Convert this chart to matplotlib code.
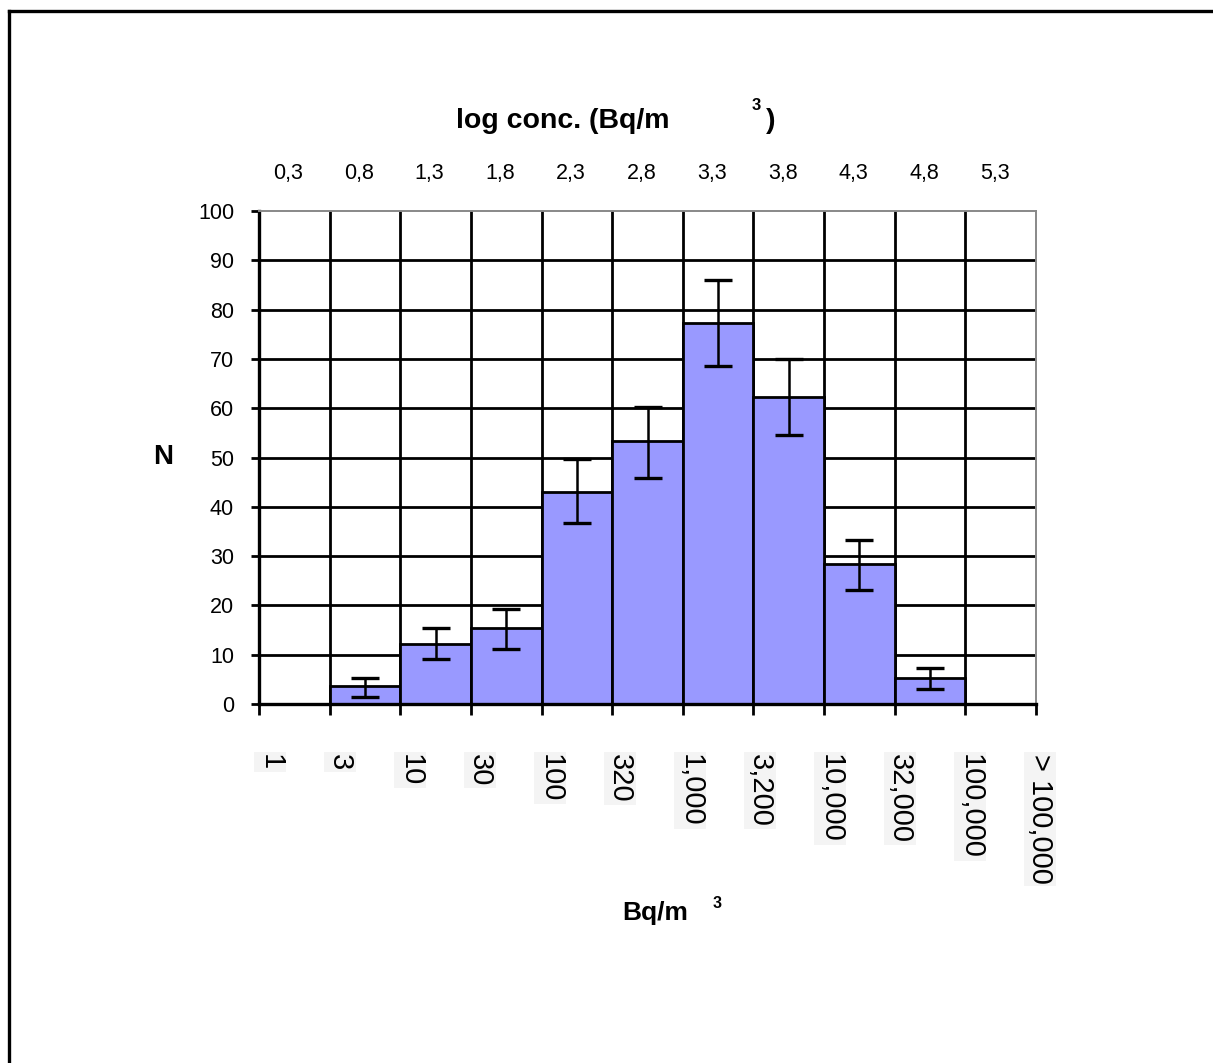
import matplotlib
matplotlib.use("Agg")
import matplotlib.pyplot as plt
import numpy as np
from matplotlib.lines import Line2D

# ---- data ----
top_labels = ["0,3", "0,8", "1,3", "1,8", "2,3", "2,8", "3,3", "3,8", "4,3", "4,8", "5,3"]
bottom_labels = ["1", "3", "10", "30", "100", "320", "1,000", "3,200", "10,000",
                 "32,000", "100,000", "> 100,000"]
counts = [0, 3.6, 12.1, 15.4, 43.0, 53.3, 77.3, 62.3, 28.4, 5.2, 0]
err_low = [np.nan, 1.5, 9.1, 11.2, 36.7, 45.8, 68.6, 54.6, 23.1, 3.0, np.nan]
err_high = [np.nan, 5.2, 15.5, 19.3, 49.7, 60.2, 86.0, 70.0, 33.3, 7.4, np.nan]
y_ticks = [0, 10, 20, 30, 40, 50, 60, 70, 80, 90, 100]

FONT = ["Liberation Sans", "DejaVu Sans"]
plt.rcParams["font.family"] = FONT

W, H = 1213, 1063
fig = plt.figure(figsize=(W / 100, H / 100), dpi=100)
fig.patch.set_facecolor("white")

# outer frame (top and left edges visible)
fig.add_artist(Line2D([9 / W, 9 / W], [0, 1 - 11 / H], transform=fig.transFigure,
                      color="black", lw=2.4))
fig.add_artist(Line2D([9 / W, 1], [1 - 11 / H, 1 - 11 / H], transform=fig.transFigure,
                      color="black", lw=2.4))

ax = fig.add_axes([259 / W, 1 - 704 / H, (1036 - 259) / W, (704 - 211) / H])
n = len(counts)
x = np.arange(n) + 0.5
ax.set_xlim(0, n)
ax.set_ylim(0, 100)

LW = 2.0
# gridlines behind bars
for yv in y_ticks[1:-1]:
    ax.axhline(yv, color="black", lw=LW, zorder=1)
for xv in range(1, n):
    ax.axvline(xv, color="black", lw=LW, zorder=1)

ax.bar(x, counts, width=1.0, color="#9999FF", edgecolor="black", linewidth=LW, zorder=2)

vals = np.array(counts)
lo = np.array(err_low)
hi = np.array(err_high)
mask = ~np.isnan(lo)
ax.errorbar(x[mask], vals[mask], yerr=[vals[mask] - lo[mask], hi[mask] - vals[mask]],
            fmt="none", ecolor="black", elinewidth=1.8, capsize=10, capthick=2.4, zorder=3)

# spines
ax.spines["left"].set_color("black")
ax.spines["left"].set_linewidth(2.4)
ax.spines["bottom"].set_color("black")
ax.spines["bottom"].set_linewidth(2.4)
ax.spines["top"].set_color("#888888")
ax.spines["top"].set_linewidth(1.4)
ax.spines["right"].set_color("#888888")
ax.spines["right"].set_linewidth(1.4)

ax.set_yticks(y_ticks)
ax.set_yticklabels([str(v) for v in y_ticks], fontsize=15.5)
ax.set_xticks(np.arange(0, n + 1))
ax.set_xticklabels([])
ax.tick_params(axis="y", direction="out", length=6, width=2, pad=12, colors="black")
ax.tick_params(axis="x", direction="out", length=8, width=2, colors="black")
ax.set_zorder(2)

# top labels (log concentration)
for i, lab in enumerate(top_labels):
    ax.text(i + 0.5 - 0.085, 1 + 37 / 493, lab, transform=ax.get_xaxis_transform(),
            ha="center", va="center", fontsize=15.5)

# bottom labels (Bq/m3), rotated
for i, lab in enumerate(bottom_labels):
    off = 0.16 - 0.009 * i
    ax.text(i + off, -(754 - 704) / 493, lab, transform=ax.get_xaxis_transform(),
            ha="center", va="top", rotation=270, fontsize=21, rotation_mode="default",
            bbox=dict(facecolor="#f4f4f4", edgecolor="none", pad=1.5))

# titles
fig.text(563 / W, 1 - 121 / H, "log conc. (Bq/m", ha="center", va="center",
         fontsize=20.5, fontweight="bold")
fig.text(756 / W, 1 - 105 / H, "3", ha="center", va="center", fontsize=12, fontweight="bold")
fig.text(771 / W, 1 - 121 / H, ")", ha="center", va="center", fontsize=20.5, fontweight="bold")

fig.text(163 / W, 1 - 457 / H, "N", ha="center", va="center", fontsize=20, fontweight="bold")

fig.text(655 / W, 1 - 913 / H, "Bq/m", ha="center", va="center", fontsize=19, fontweight="bold")
fig.text(717 / W, 1 - 903 / H, "3", ha="center", va="center", fontsize=11.5, fontweight="bold")

fig.savefig("out.png", dpi=100, facecolor="white")
